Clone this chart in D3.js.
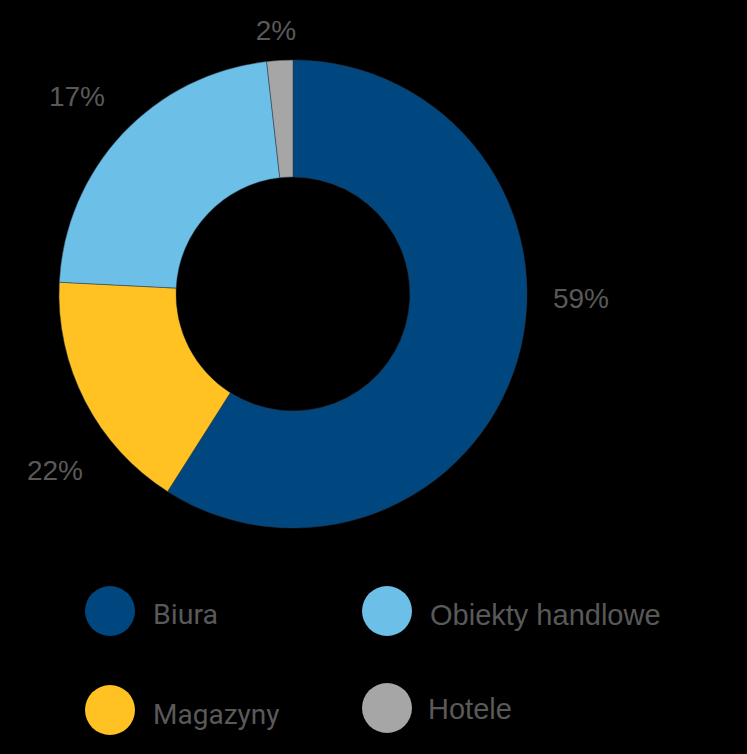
<!DOCTYPE html>
<html><head><meta charset="utf-8">
<script src="https://cdn.jsdelivr.net/npm/d3@7"></script>
<style>html,body{margin:0;padding:0;background:#000;}svg{display:block;}</style>
</head><body>
<svg id="c" width="747" height="754"></svg>
<script>
const categories = ["Biura", "Magazyny", "Obiekty handlowe", "Hotele"];
const values = [59, 16.8, 22.4, 1.8];
const valueLabels = ["59%", "22%", "17%", "2%"];
const colors = ["#00467f", "#ffc222", "#6cc0e8", "#a6a6a6"];

const svg = d3.select("#c");
svg.append("rect").attr("width", 747).attr("height", 754).attr("fill", "#000");

const cx = 293, cy = 294, rOut = 234, rIn = 117;
const pie = d3.pie().sort(null).value(d => d);
const arcs = pie(values);
const arc = d3.arc().innerRadius(rIn).outerRadius(rOut);
const g = svg.append("g").attr("transform", `translate(${cx},${cy})`);
g.selectAll("path").data(arcs).join("path")
  .attr("d", arc)
  .attr("fill", (d, i) => colors[i])
  .attr("stroke", "#2a3a4a").attr("stroke-width", 0.5);

// label anchor positions (layout), in order of slices
const labelPos = [[581, 308], [55, 480], [77, 106], [276, 40]];
svg.selectAll("text.val").data(arcs).join("text")
  .attr("class", "val")
  .attr("x", (d, i) => labelPos[i][0])
  .attr("y", (d, i) => labelPos[i][1])
  .attr("text-anchor", "middle")
  .attr("font-family", "Liberation Sans, Arial, sans-serif")
  .attr("font-size", 28)
  .attr("fill", "#595959")
  .text((d, i) => valueLabels[i]);

// legend
const legendPos = [
  {cx: 110, cy: 611, tx: 153, ty: 624, font: "Roboto", size: 28.5},
  {cx: 110, cy: 710, tx: 153, ty: 724, font: "Roboto", size: 28},
  {cx: 387, cy: 611, tx: 430, ty: 625, font: "Liberation Sans", size: 29},
  {cx: 387, cy: 708, tx: 428, ty: 719, font: "Liberation Sans", size: 29}
];
const lg = svg.append("g");
categories.forEach((c, i) => {
  const p = legendPos[i];
  lg.append("circle").attr("cx", p.cx).attr("cy", p.cy).attr("r", 25).attr("fill", colors[i]);
  lg.append("text").attr("x", p.tx).attr("y", p.ty)
    .attr("font-family", p.font + ", Arial, sans-serif")
    .attr("font-size", p.size)
    .attr("fill", "#595959")
    .text(c);
});
</script>
</body></html>
